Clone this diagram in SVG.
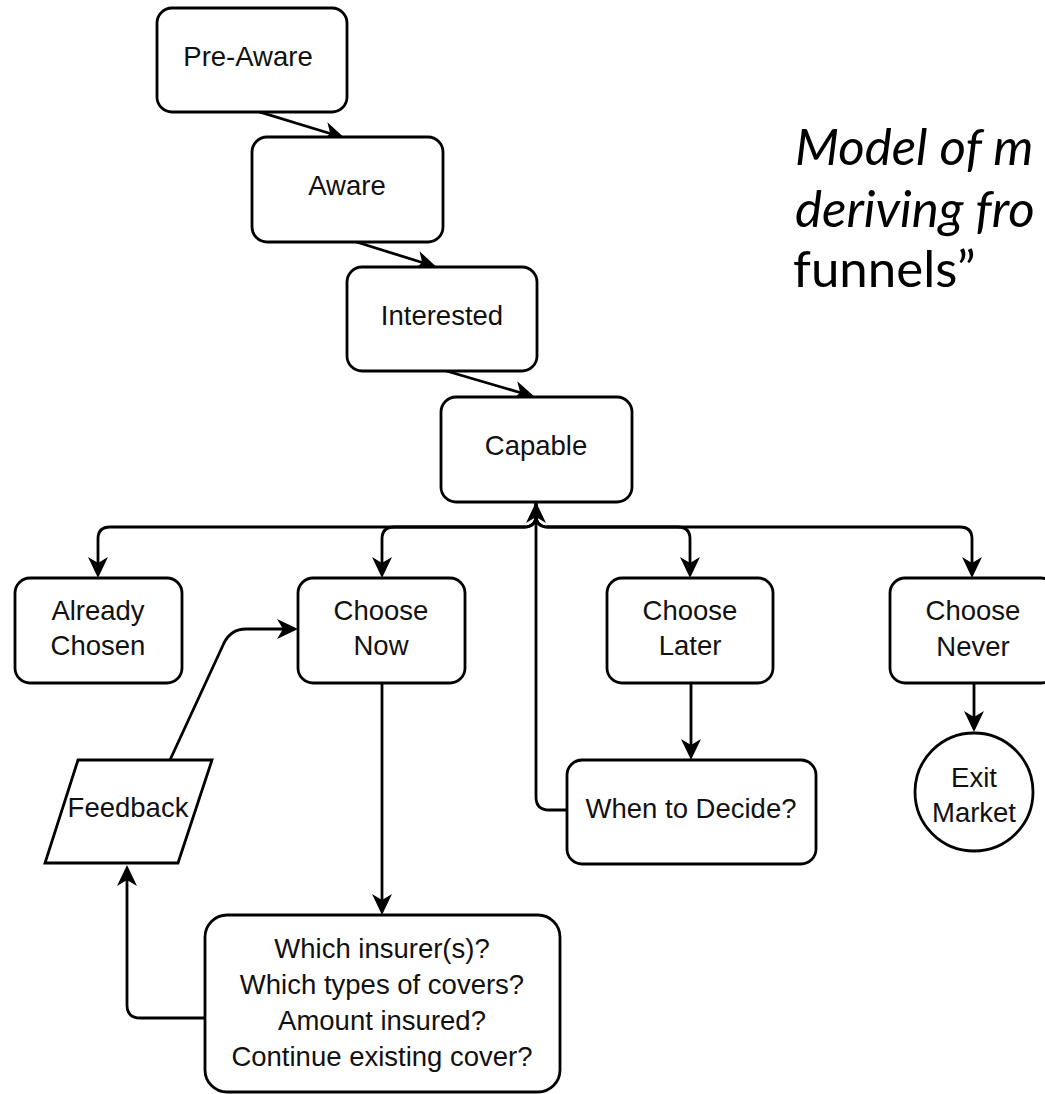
<svg xmlns="http://www.w3.org/2000/svg" width="1045" height="1094" viewBox="0 0 1045 1094">
<defs>
<marker id="arr" markerUnits="userSpaceOnUse" viewBox="-14 -12 26 24" refX="0" refY="0" markerWidth="26" markerHeight="24" orient="auto">
<path d="M10,0 L-11,-10 L-5,0 L-11,10 Z" fill="#000"/>
</marker>
</defs>
<style>
.box{fill:#fff;stroke:#000;stroke-width:2.8}
.t{font-family:"Liberation Sans",Arial,sans-serif;font-size:27.5px;fill:#111;text-anchor:middle}
.c{fill:none;stroke:#000;stroke-width:2.8}
.title{font-family:Lato,"Open Sans",sans-serif;font-size:51px;fill:#000}
</style>
<rect width="1045" height="1094" fill="#fff"/>
<g id="connectors">
<path class="c" d="M253,110 L335,135" marker-end="url(#arr)"/>
<path class="c" d="M350,240 L427,264" marker-end="url(#arr)"/>
<path class="c" d="M443,370 L525,394" marker-end="url(#arr)"/>
<path class="c" d="M536,502 L536,515 Q536,527 524,527 L110,527 Q98,527 98,539 L98,568" marker-end="url(#arr)"/>
<path class="c" d="M536,502 L536,515 Q536,527 524,527 L394,527 Q382,527 382,539 L382,568" marker-end="url(#arr)"/>
<path class="c" d="M536,502 L536,515 Q536,527 548,527 L678,527 Q690,527 690,539 L690,568" marker-end="url(#arr)"/>
<path class="c" d="M536,502 L536,515 Q536,527 548,527 L960,527 Q972,527 972,539 L972,568" marker-end="url(#arr)"/>
<path class="c" d="M567,810 L549,810 Q536,810 536,797 L536,512" marker-end="url(#arr)"/>
<path class="c" d="M382,683 L382,905" marker-end="url(#arr)"/>
<path class="c" d="M691,683 L691,750" marker-end="url(#arr)"/>
<path class="c" d="M974,683 L974,722" stroke-width="4.2" marker-end="url(#arr)"/>
<path class="c" d="M205,1018 L140,1018 Q127,1018 127,1005 L127,875" marker-end="url(#arr)"/>
<path class="c" d="M170,760 L224,643 Q231,629 246,629 L288,629" marker-end="url(#arr)"/>
</g>
<g id="pre-aware"><rect class="box" x="157" y="8" width="190" height="104" rx="15"/><text class="t" x="248" y="66">Pre-Aware</text></g>
<g id="aware"><rect class="box" x="252" y="137" width="191" height="105" rx="15"/><text class="t" x="347" y="195">Aware</text></g>
<g id="interested"><rect class="box" x="347" y="267" width="190" height="104" rx="15"/><text class="t" x="442" y="325">Interested</text></g>
<g id="capable"><rect class="box" x="441" y="397" width="191" height="105" rx="15"/><text class="t" x="536" y="455">Capable</text></g>
<g id="already-chosen"><rect class="box" x="15" y="578" width="167" height="105" rx="15"/><text class="t" x="98" y="620">Already</text><text class="t" x="98" y="655">Chosen</text></g>
<g id="choose-now"><rect class="box" x="298" y="578" width="167" height="105" rx="15"/><text class="t" x="381" y="620">Choose</text><text class="t" x="381" y="655">Now</text></g>
<g id="choose-later"><rect class="box" x="607" y="578" width="166" height="105" rx="15"/><text class="t" x="690" y="620">Choose</text><text class="t" x="690" y="655">Later</text></g>
<g id="choose-never"><rect class="box" x="890" y="578" width="166" height="105" rx="15"/><text class="t" x="973" y="620">Choose</text><text class="t" x="973" y="656">Never</text></g>
<g id="exit-market"><circle class="box" cx="974" cy="792" r="59"/><text class="t" x="974" y="787">Exit</text><text class="t" x="974" y="822">Market</text></g>
<g id="when-to-decide"><rect class="box" x="567" y="760" width="249" height="104" rx="15"/><text class="t" x="691" y="818">When to Decide?</text></g>
<g id="feedback"><polygon class="box" points="78,760 212,760 178,863 45,863"/><text class="t" x="128" y="817">Feedback</text></g>
<g id="questions"><rect class="box" x="205" y="915" width="355" height="177" rx="22"/>
<text class="t" x="382" y="958">Which insurer(s)?</text>
<text class="t" x="382" y="994">Which types of covers?</text>
<text class="t" x="382" y="1030">Amount insured?</text>
<text class="t" x="382" y="1066">Continue existing cover?</text></g>
<g id="caption">
<text class="title" x="795" y="165" font-style="italic">Model of m</text>
<text class="title" x="795" y="227" font-style="italic">deriving fro</text>
<text class="title" x="793" y="287">funnels”</text>
</g>
</svg>
